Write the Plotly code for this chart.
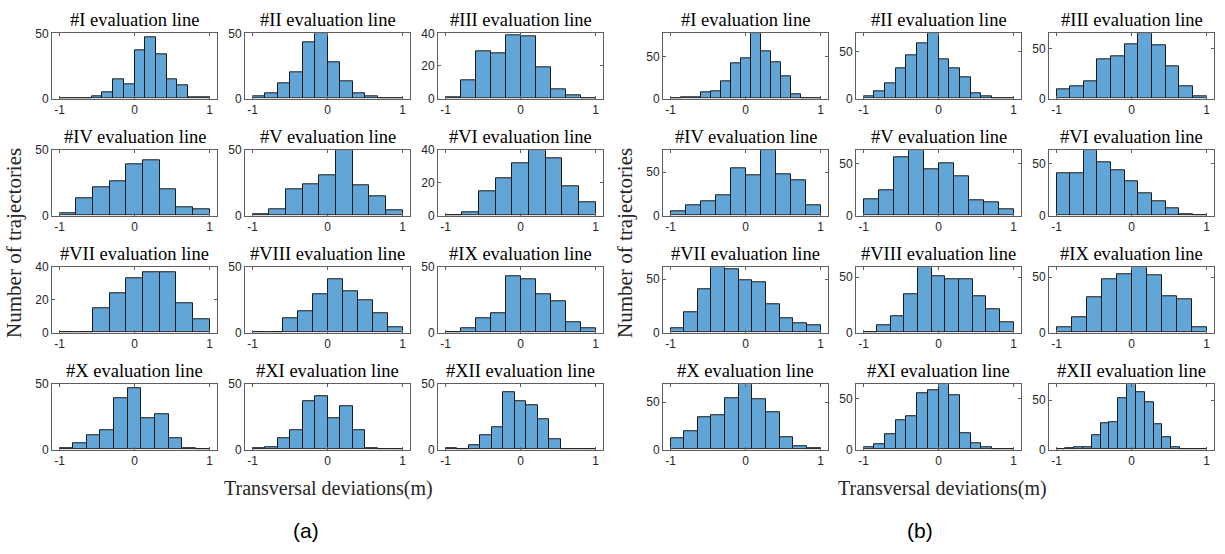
import numpy as np
import plotly.graph_objects as go

# ---------------- data (counts per bin, bins span -1..1 evenly) ----------------
line_names = ["#I", "#II", "#III", "#IV", "#V", "#VI",
              "#VII", "#VIII", "#IX", "#X", "#XI", "#XII"]

a_I = [0, 0, 0, 2, 5, 15, 11, 37, 47, 34, 15, 10, 1, 1]
a_II = [2, 4, 12, 20, 43, 50, 28, 13, 4, 2, 0, 0]
a_III = [1, 11, 29, 28, 39, 38, 19, 6, 2, 0]
a_IV = [2, 13, 22, 26, 39, 42, 20, 6, 5]
a_V = [1, 5, 20, 24, 31, 50, 23, 15, 4]
a_VI = [0, 2, 15, 23, 32, 40, 35, 18, 8]
a_VII = [0, 0, 15, 24, 33, 37, 37, 18, 8]
a_VIII = [0, 0, 11, 16, 29, 41, 32, 25, 15, 4]
a_IX = [0, 3, 11, 15, 43, 41, 29, 24, 8, 3]
a_X = [1, 5, 11, 15, 39, 47, 24, 27, 9, 1, 0]
a_XI = [1, 2, 9, 15, 37, 41, 24, 33, 15, 1, 0, 0]
a_XII = [1, 0, 3, 11, 17, 44, 37, 34, 23, 8, 0, 0, 0]

b_I = [0, 1, 1, 7, 9, 21, 42, 48, 78, 57, 43, 27, 5, 0, 0]
b_II = [3, 8, 16, 33, 46, 59, 70, 42, 33, 23, 6, 3, 0, 0]
b_III = [9, 12, 17, 39, 42, 54, 65, 53, 32, 12, 2]
b_IV = [5, 12, 17, 23, 54, 46, 75, 47, 41, 12]
b_V = [16, 24, 56, 63, 45, 50, 38, 15, 13, 6]
b_VI = [41, 41, 63, 51, 44, 33, 22, 14, 7, 1, 0]
b_VII = [4, 19, 40, 61, 59, 49, 47, 26, 13, 9, 7]
b_VIII = [0, 7, 15, 35, 59, 51, 48, 48, 33, 21, 9]
b_IX = [5, 14, 32, 48, 53, 59, 52, 33, 30, 5]
b_X = [12, 19, 34, 36, 54, 69, 53, 39, 13, 3, 1]
b_XI = [2, 5, 15, 29, 33, 55, 58, 64, 53, 16, 6, 2, 0, 0]
b_XII = [0, 1, 2, 2, 14, 27, 28, 52, 66, 58, 48, 26, 12, 2, 0, 0, 0]

panel_a = [a_I, a_II, a_III, a_IV, a_V, a_VI, a_VII, a_VIII, a_IX, a_X, a_XI, a_XII]
panel_b = [b_I, b_II, b_III, b_IV, b_V, b_VI, b_VII, b_VIII, b_IX, b_X, b_XI, b_XII]

x_ticks = [-1, 0, 1]
x_tick_text = ["-1", "0", "1"]
x_label = "Transversal deviations(m)"
y_label = "Number of trajectories"
panel_tags = ["(a)", "(b)"]

# ---------------- layout geometry (pixels) ----------------
W, H = 1225, 554
col_left = [[52, 245, 438], [663, 856, 1049]]
ax_w = 165
row_top = [27, 147, 267, 387]
ax_h = 67

BAR_COLOR = "#62A6D8"
EDGE_COLOR = "#1a1a1a"
AXIS_COLOR = "#5e5e5e"
TICK_FONT = dict(family="Liberation Sans, Arial, sans-serif", size=12, color="#262626")
SERIF = "Liberation Serif, Times New Roman, serif"

fig = go.Figure()
layout = dict()
annotations = []


def px_x(x):
    return x / W


def px_y(y):
    return 1 - y / H


for p, panel in enumerate([panel_a, panel_b]):
    for k, counts in enumerate(panel):
        n = p * 12 + k + 1
        r, c = divmod(k, 3)
        left = col_left[p][c]
        top = row_top[r]
        nb = len(counts)
        edges = np.linspace(-1, 1, nb + 1)
        centers = (edges[:-1] + edges[1:]) / 2
        width = 2 / nb
        cmax = max(counts)
        if p == 0:
            ytop = int(np.ceil(cmax / 10.0) * 10)
            yticks = [0, 20, 40] if ytop == 40 else [0, 50]
        else:
            ytop = cmax
            yticks = [0, 50]
        suffix = "" if n == 1 else str(n)
        fig.add_trace(go.Bar(
            x=centers, y=counts, width=[width] * nb,
            marker=dict(color=BAR_COLOR, line=dict(color=EDGE_COLOR, width=1)),
            xaxis="x" + suffix, yaxis="y" + suffix, showlegend=False,
            hoverinfo="skip",
        ))
        layout["xaxis" + suffix] = dict(
            domain=[px_x(left), px_x(left + ax_w)], range=[-1.1, 1.1],
            anchor="y" + suffix, tickvals=x_ticks, ticktext=x_tick_text,
            showline=True, linecolor=AXIS_COLOR, linewidth=1, mirror="ticks",
            ticks="inside", ticklen=3, tickcolor=AXIS_COLOR,
            showgrid=False, zeroline=False, tickfont=TICK_FONT, fixedrange=True,
        )
        layout["yaxis" + suffix] = dict(
            domain=[px_y(top + ax_h), px_y(top)], range=[0, ytop],
            anchor="x" + suffix, tickvals=yticks,
            showline=True, linecolor=AXIS_COLOR, linewidth=1, mirror="ticks",
            ticks="inside", ticklen=3, tickcolor=AXIS_COLOR,
            showgrid=False, zeroline=False, tickfont=TICK_FONT, fixedrange=True,
        )
        annotations.append(dict(
            text=line_names[k] + " evaluation line", xref="paper", yref="paper",
            x=px_x(left + ax_w / 2), y=px_y(top - 13.5), xanchor="center", yanchor="middle",
            showarrow=False, font=dict(family=SERIF, size=18.5, color="black"),
        ))

# shared labels
for p, (xl_cx, yl_cx, tag_cx) in enumerate([(328, 14, 306), (942, 625, 920)]):
    annotations.append(dict(
        text=x_label, xref="paper", yref="paper", x=px_x(xl_cx), y=px_y(494),
        xanchor="center", yanchor="middle", showarrow=False,
        font=dict(family=SERIF, size=20, color="#262626"),
    ))
    annotations.append(dict(
        text=y_label, xref="paper", yref="paper", x=px_x(yl_cx), y=px_y(242),
        xanchor="center", yanchor="middle", showarrow=False, textangle=-90,
        font=dict(family=SERIF, size=21, color="#262626"),
    ))
    annotations.append(dict(
        text=panel_tags[p], xref="paper", yref="paper", x=px_x(tag_cx), y=px_y(537),
        xanchor="center", yanchor="middle", showarrow=False,
        font=dict(family="Liberation Sans, Arial, sans-serif", size=21, color="black"),
    ))

fig.update_layout(
    width=W, height=H, margin=dict(l=0, r=0, t=0, b=0),
    paper_bgcolor="white", plot_bgcolor="white",
    bargap=0, annotations=annotations, **layout,
)

fig.write_html("out.html")
